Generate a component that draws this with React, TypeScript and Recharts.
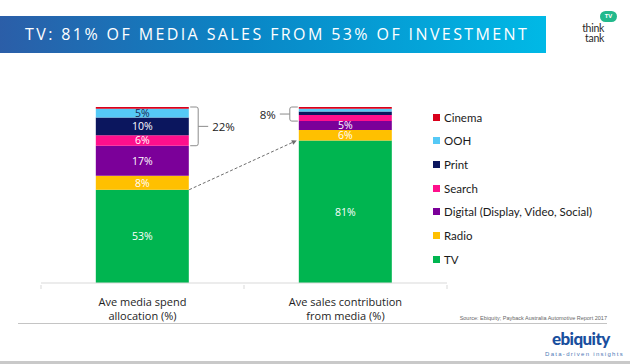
import React from "react";
import { BarChart, Bar, XAxis, YAxis, LabelList, ReferenceLine } from "recharts";

// categories / tick labels
const categories = ["spend", "sales"];
const tickLines = [
  ["Ave media spend", "allocation (%)"],
  ["Ave sales contribution", "from media (%)"],
];

// series, bottom of the stack first
const seriesKeys = ["tv", "radio", "digital", "search", "print", "ooh", "cinema"];
const seriesNames = ["TV", "Radio", "Digital (Display, Video, Social)", "Search", "Print", "OOH", "Cinema"];
const seriesColors = ["#00b550", "#ffc000", "#7b0099", "#ff0f8c", "#0b165e", "#55c9f6", "#d9001b"];

const tvValues = [53, 81];
const radioValues = [8, 6];
const digitalValues = [17, 5];
const searchValues = [6, 3.5];
const printValues = [10, 2];
const oohValues = [5, 1.5];
const cinemaValues = [1, 1];
const seriesValues = [tvValues, radioValues, digitalValues, searchValues, printValues, oohValues, cinemaValues];

// search, print, OOH and cinema are bracketed together
const OTHER_FROM = 3;

const FONT = "'Open Sans', Lato, sans-serif";
const CHART_W = 470;
const CHART_H = 330;
const MARGIN = { top: 107, right: 23, left: 41, bottom: 7 };
const BAR_GAP = 0.27;

const data = categories.map((name, i) => {
  const row: any = { name };
  seriesKeys.forEach((k, s) => (row[k] = seriesValues[s][i]));
  return row;
});

const totals = categories.map((_, i) => seriesValues.reduce((a, v) => a + v[i], 0));
const otherTotals = categories.map((_, i) =>
  seriesValues.slice(OTHER_FROM).reduce((a, v) => a + v[i], 0)
);
const baseTotals = totals.map((t, i) => t - otherTotals[i]);

const halfBar = (x1: number, x2: number) => ((x2 - x1) * (1 - 2 * BAR_GAP)) / 2;

function ArrowShape(p: any) {
  const h = halfBar(p.x1, p.x2);
  const sx = p.x1 + h;
  const ex = p.x2 - h - 2;
  const ang = Math.atan2(p.y2 - p.y1, ex - sx);
  const a = 5;
  const w = 2.5;
  const bx = ex - a * Math.cos(ang);
  const by = p.y2 - a * Math.sin(ang);
  const pts = [
    [ex, p.y2],
    [bx - w * Math.sin(ang), by + w * Math.cos(ang)],
    [bx + w * Math.sin(ang), by - w * Math.cos(ang)],
  ]
    .map((q) => q.join(","))
    .join(" ");
  return (
    <g>
      <line x1={sx} y1={p.y1} x2={bx} y2={by} stroke="#6d6d6d" strokeWidth={1} strokeDasharray="3 2" />
      <polygon points={pts} fill="#6d6d6d" />
    </g>
  );
}

// bracket on the right side of the first bar or the left side of the second
const makeBracket = (side: "right" | "left", label: string) => (p: any) => {
  const h = halfBar(p.x1, p.x2);
  const dir = side === "right" ? 1 : -1;
  const edge = side === "right" ? p.x1 + h + 1 : p.x2 - h - 1;
  const vx = edge + dir * 8;
  const yTop = Math.min(p.y1, p.y2);
  const yBot = Math.max(p.y1, p.y2);
  const ym = (yTop + yBot) / 2;
  const r = 2;
  const d = `M${edge},${yTop} H${vx - dir * r} Q${vx},${yTop} ${vx},${yTop + r} V${yBot - r} Q${vx},${yBot} ${vx - dir * r},${yBot} H${edge} M${vx},${ym} H${vx + dir * 10}`;
  return (
    <g>
      <path d={d} fill="none" stroke="#8c8c8c" strokeWidth={1} />
      <text
        x={vx + dir * 14}
        y={ym}
        textAnchor={side === "right" ? "start" : "end"}
        dominantBaseline="central"
        fontSize={11.5}
        fontFamily={FONT}
        fill="#222"
      >
        {label}
      </text>
    </g>
  );
};

const makeLabel = (s: number) => (props: any) => {
  const vb = props.viewBox || props;
  const { x, y, width, height } = vb;
  const v = seriesValues[s][props.index];
  if (v == null || v < 5) return null;
  return (
    <text
      x={x + width / 2}
      y={y + height / 2}
      textAnchor="middle"
      dominantBaseline="central"
      fontSize={10.5}
      fontFamily={FONT}
      fill={seriesKeys[s] === "ooh" ? "#1a2550" : "#ffffff"}
    >
      {`${v}%`}
    </text>
  );
};

const STEP = (CHART_W - MARGIN.left - MARGIN.right) / categories.length;

function CategoryTick(props: any) {
  const { x, y, payload } = props;
  const idx = payload.index ?? categories.indexOf(payload.value);
  const lines = tickLines[idx] || [];
  return (
    <g>
      <line x1={x - STEP / 2} y1={y} x2={x - STEP / 2} y2={y + 4} stroke="#d9d9d9" />
      {idx === categories.length - 1 && (
        <line x1={x + STEP / 2} y1={y} x2={x + STEP / 2} y2={y + 4} stroke="#d9d9d9" />
      )}
      {lines.map((t, i) => (
        <text
          key={i}
          x={x}
          y={y + 16 + i * 14}
          textAnchor="middle"
          dominantBaseline="central"
          fontSize={11}
          fontFamily={FONT}
          fill="#1e1e1e"
        >
          {t}
        </text>
      ))}
    </g>
  );
}

export default function App() {
  const legendOrder = seriesKeys.map((_, i) => i).reverse();
  return (
    <div
      style={{
        position: "absolute",
        left: 0,
        top: 0,
        width: 630,
        height: 364,
        background: "#fff",
        overflow: "hidden",
        fontFamily: FONT,
      }}
    >
      {/* title band */}
      <div
        style={{
          position: "absolute",
          left: 0,
          top: 16,
          width: 546,
          height: 37,
          background: "linear-gradient(90deg, #2b5ea8 0%, #0a86c6 45%, #00b9e6 100%)",
        }}
      />
      <div
        style={{
          position: "absolute",
          left: 25,
          top: 16,
          height: 37,
          lineHeight: "37px",
          color: "#fff",
          fontSize: 16,
          letterSpacing: 2.4,
          whiteSpace: "nowrap",
        }}
      >
        TV: 81% OF MEDIA SALES FROM 53% OF INVESTMENT
      </div>

      {/* think tank mark */}
      <div
        style={{
          position: "absolute",
          left: 600,
          top: 11,
          width: 17,
          height: 11,
          borderRadius: 6,
          background: "#22b98c",
          color: "#fff",
          fontSize: 6,
          lineHeight: "11px",
          textAlign: "center",
          fontWeight: 700,
        }}
      >
        TV
      </div>
      <div
        style={{
          position: "absolute",
          left: 570,
          top: 23,
          width: 34,
          fontSize: 10.5,
          lineHeight: "10px",
          color: "#2a2a2a",
          textAlign: "right",
          fontFamily: "Lato, sans-serif",
          letterSpacing: -0.3,
        }}
      >
        <div style={{ height: 10 }}>think</div>
        <div style={{ height: 10 }}>tank</div>
      </div>

      <div style={{ position: "absolute", left: 0, top: 0 }}>
        <BarChart width={CHART_W} height={CHART_H} data={data} margin={MARGIN} barCategoryGap={`${BAR_GAP * 100}%`}>
          <XAxis
            dataKey="name"
            height={40}
            axisLine={{ stroke: "#d9d9d9" }}
            tickLine={false}
            tickSize={0}
            tick={<CategoryTick />}
            interval={0}
          />
          <YAxis hide domain={[0, 100]} />
          {seriesKeys.map((k, s) => (
            <Bar key={k} dataKey={k} stackId="a" fill={seriesColors[s]} isAnimationActive={false}>
              <LabelList dataKey={k} content={makeLabel(s)} />
            </Bar>
          ))}
          <ReferenceLine
            segment={[
              { x: categories[0], y: tvValues[0] },
              { x: categories[1], y: tvValues[1] },
            ]}
            shape={ArrowShape}
          />
          <ReferenceLine
            segment={[
              { x: categories[0], y: totals[0] },
              { x: categories[1], y: baseTotals[0] },
            ]}
            shape={makeBracket("right", `${otherTotals[0]}%`)}
          />
          <ReferenceLine
            segment={[
              { x: categories[0], y: totals[1] },
              { x: categories[1], y: baseTotals[1] },
            ]}
            shape={makeBracket("left", `${otherTotals[1]}%`)}
          />
        </BarChart>
      </div>

      {/* legend */}
      {legendOrder.map((s, i) => (
        <div
          key={seriesKeys[s]}
          style={{
            position: "absolute",
            left: 433,
            top: 117 + i * 23.7 - 8,
            height: 16,
            display: "flex",
            alignItems: "center",
            whiteSpace: "nowrap",
          }}
        >
          <span style={{ width: 7, height: 7, background: seriesColors[s], marginRight: 4 }} />
          <span style={{ fontSize: 11.5, color: "#1a1a1a", fontFamily: "Lato, sans-serif" }}>{seriesNames[s]}</span>
        </div>
      ))}

      {/* footer */}
      <div style={{ position: "absolute", left: 18, top: 323, width: 589, height: 1, background: "#c4c4c4" }} />
      <div
        style={{
          position: "absolute",
          right: 23,
          top: 315,
          fontSize: 5.5,
          color: "#666",
          whiteSpace: "nowrap",
          fontFamily: "'Liberation Sans', sans-serif",
        }}
      >
        Source: Ebiquity; Payback Australia Automotive Report 2017
      </div>
      <div
        style={{
          position: "absolute",
          left: 552,
          top: 329,
          fontSize: 17,
          fontWeight: 900,
          color: "#1a4f9e",
          fontFamily: "Lato, sans-serif",
          letterSpacing: -0.6,
          lineHeight: "20px",
        }}
      >
        ebiquity
      </div>
      <div
        style={{
          position: "absolute",
          left: 545,
          top: 351,
          fontSize: 6,
          color: "#4d78b6",
          letterSpacing: 1.3,
          whiteSpace: "nowrap",
          fontFamily: "'Liberation Sans', sans-serif",
        }}
      >
        Data-driven insights
      </div>
      <div style={{ position: "absolute", left: 0, top: 361, width: 630, height: 3, background: "#c9c9c9" }} />
    </div>
  );
}
